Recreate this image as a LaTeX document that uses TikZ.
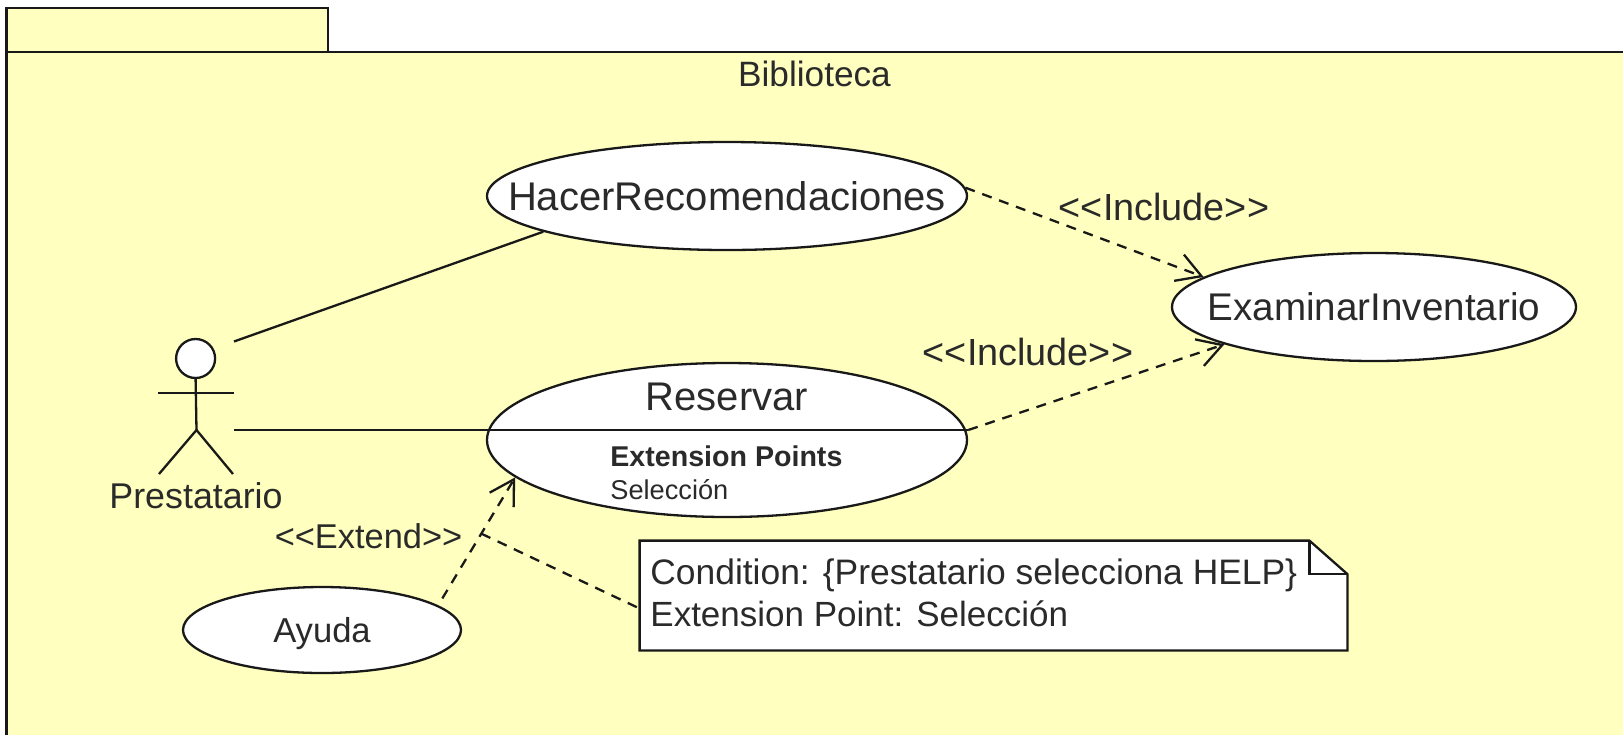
\documentclass[tikz,border=0pt]{standalone}
\usepackage{fontspec}
\setmainfont{Liberation Sans}
\usetikzlibrary{shapes.geometric,arrows.meta,calc}
\definecolor{pkg}{HTML}{FFFFBF}
\definecolor{ink}{HTML}{2A2A2A}
\newcommand{\fsz}[1]{\fontsize{#1}{#1}\selectfont}
\tikzset{
 every node/.style={text=ink},
 ln/.style={line width=1.15pt,draw=black!90},
 uc/.style={shape=ellipse,draw=black!90,line width=1.15pt,fill=white,inner xsep=-70pt,inner ysep=-5pt},
 lbl/.style={inner sep=0pt,font=\fsz{18}},
 dep/.style={ln,dash pattern=on 5pt off 4pt},
 opn/.style={-{Straight Barb[length=12pt,width=14pt,line width=1.15pt]}},
}
\begin{document}
\begin{tikzpicture}[x=0.5pt,y=-0.5pt]
\useasboundingbox (0,0) rectangle (1623,735);
% package
\fill[pkg] (6.5,8) rectangle (328,52);
\fill[pkg] (6.5,52) rectangle (1623,735);
\draw[ln] (6.5,52) -- (6.5,8) -- (328,8) -- (328,52);
\draw[ln] (1623,52) -- (6.5,52) -- (6.5,735);
\node[lbl,font=\fsz{17.6}] (bib) at (814.5,73.5) {Biblioteca};
% use cases
\node[uc,minimum width=240pt,minimum height=54pt,font=\fsz{20}] (hacer) at (727,196) {HacerRecomendaciones};
\node[uc,minimum width=202pt,minimum height=54pt,font=\fsz{19.3}] (exam) at (1374,307) {ExaminarInventario};
\node[uc,minimum width=240pt,minimum height=77pt] (res) at (727,440) {};
\node[uc,minimum width=139pt,minimum height=43pt,font=\fsz{17.3},text depth=0.5pt] (ayuda) at (322,630) {Ayuda};
\node[lbl,font=\fsz{20}] (restxt) at (727,396.5) {Reservar};
\node[lbl,anchor=west,font=\fsz{14.3}\bfseries] (ept) at (610,456.5) {Extension Points};
\node[lbl,anchor=west,font=\fsz{13.6}] (sel) at (610,489.5) {Selección};
% actor
\node[shape=circle,draw=black!90,line width=1.15pt,fill=white,inner sep=0pt,minimum size=19.5pt] (head) at (195.6,358.5) {};
\coordinate (hip) at (196.5,430);
\coordinate (armL) at (158,393);
\coordinate (armR) at (234,393);
\coordinate (legL) at (159,474);
\coordinate (legR) at (233,474);
\draw[ln] (head.south) -- (hip);
\draw[ln] (armL) -- (armR);
\draw[ln] (legL) -- (hip) -- (legR);
\node[lbl,font=\fsz{17.9}] (pres) at (196,496) {Prestatario};
% note
\node[draw=none,minimum width=353.5pt,minimum height=54.5pt,inner sep=0pt] (note) at (993.5,595.5) {};
\coordinate (nfa) at ($(note.north east)+(-38,0)$);
\coordinate (nfb) at ($(note.north east)+(0,33.5)$);
\coordinate (nfc) at ($(note.north east)+(-38,33.5)$);
\draw[ln,fill=white] (note.north west) -- (nfa) -- (nfb) -- (note.south east) -- (note.south west) -- cycle;
\draw[ln] (nfa) -- (nfc) -- (nfb);
\node[lbl,anchor=west,font=\fsz{17.7}] (n1) at (650,575) {Condition: \{Prestatario selecciona HELP\}};
\node[lbl,anchor=west,font=\fsz{17.5}] (n2) at (650,614) {Extension Point: Selección};
% labels
\node[lbl,font=\fsz{18.9}] (inc1) at (1164,207) {<{}<Include>{}>};
\node[lbl,font=\fsz{18.9}] (inc2) at (1028,352) {<{}<Include>{}>};
\node[lbl,font=\fsz{17.2}] (ext) at (368.5,536) {<{}<Extend>{}>};
% connectors
\coordinate (actA) at (234,341.5);
\coordinate (actB) at (234,430);
\coordinate (resL) at (res.west |- actB);
\coordinate (resR) at (res.east |- actB);
\draw[ln] (resL) -- (resR);
\draw[ln] (actA) -- (hacer.191);
\draw[ln] (actB) -- (resL);
\draw[dep,opn] (hacer.2.4) -- (exam.170);
\draw[dep,opn] (resR) -- (exam.194);
\draw[dep,opn,dash phase=5pt] (ayuda.12) -- coordinate[pos=0.56] (mid) (res.190);
\draw[dep] (mid) -- ($(note.west)+(0,13)$);
\end{tikzpicture}
\end{document}
